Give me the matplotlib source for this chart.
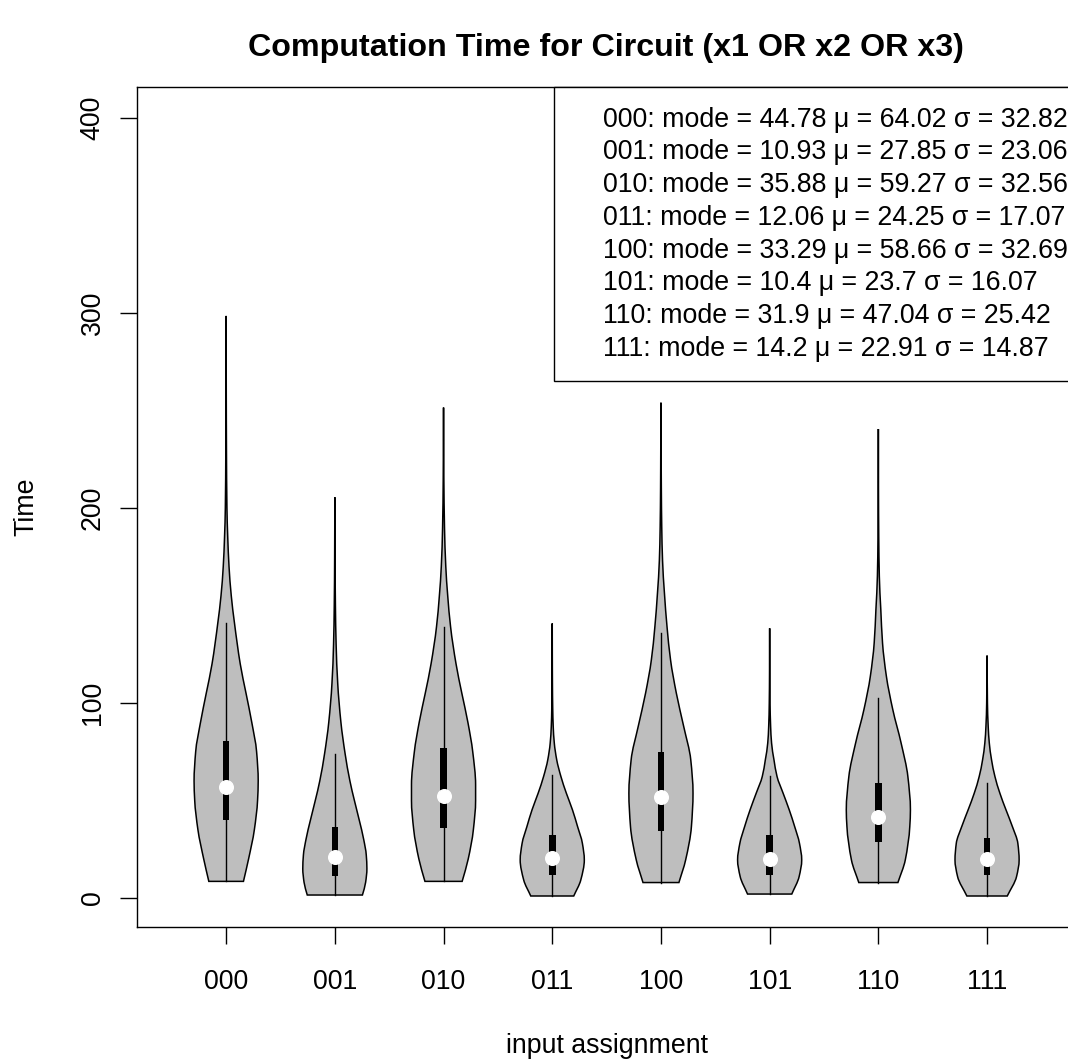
import numpy as np
import matplotlib
matplotlib.use('Agg')
import matplotlib.pyplot as plt
from matplotlib.patches import Rectangle, PathPatch
from matplotlib.path import Path

plt.rcParams['font.family'] = ['Liberation Sans', 'DejaVu Sans']

labels = ['000', '001', '010', '011', '100', '101', '110', '111']

# box plot numbers
mins = [8.5, 1.5, 8.5, 1.0, 7.9, 2.0, 7.9, 1.0]
q1 = [40, 11.2, 36, 11.8, 34.5, 11.8, 28.9, 11.8]
medians = [57, 21, 52.5, 20.3, 51.6, 20, 41.7, 20]
q3 = [80.5, 36.4, 77, 32.3, 75, 32.3, 58.8, 30.9]
upper_whisker = [141, 73.8, 139, 63.1, 136, 62.6, 102.7, 58.8]
maxs = [298.5, 205.5, 251.5, 140.8, 254, 138.3, 240.5, 124.3]

# violin outlines: time values and relative half widths
t_000 = [8.5, 20, 35, 50, 60, 75, 90, 105, 120, 141, 155, 170, 185, 200, 230, 260, 298.5]
w_000 = [0.54, 0.70, 0.88, 0.98, 1.0, 0.95, 0.80, 0.62, 0.44, 0.26, 0.16, 0.09, 0.05, 0.025, 0.01, 0.004, 0.0]
t_001 = [1.5, 8, 15, 22, 30, 40, 50, 60, 74, 90, 110, 130, 150, 175, 205.5]
w_001 = [0.86, 0.96, 1.0, 0.98, 0.90, 0.76, 0.61, 0.47, 0.32, 0.19, 0.09, 0.04, 0.018, 0.006, 0.0]
t_010 = [8.5, 20, 35, 50, 58, 75, 90, 105, 120, 139, 155, 170, 190, 215, 251.5]
w_010 = [0.58, 0.77, 0.93, 1.0, 1.0, 0.91, 0.76, 0.57, 0.39, 0.22, 0.13, 0.07, 0.03, 0.01, 0.0]
t_011 = [1.0, 9.2, 19.5, 28, 36.6, 45.2, 53.7, 62.3, 70.8, 79.4, 88, 97, 110, 125, 140.8]
w_011 = [0.67, 0.89, 1.0, 0.94, 0.79, 0.63, 0.44, 0.27, 0.14, 0.064, 0.03, 0.015, 0.006, 0.002, 0.0]
t_100 = [7.9, 19.5, 36.6, 53.7, 70.8, 87.9, 105, 122, 139, 156, 173, 190, 210, 230, 254]
w_100 = [0.56, 0.77, 0.95, 1.0, 0.93, 0.71, 0.48, 0.30, 0.19, 0.11, 0.05, 0.025, 0.012, 0.006, 0.0]
t_101 = [2.0, 11, 19.5, 28, 36.6, 45.2, 53.7, 62.3, 70.8, 79.4, 88, 100, 115, 138.3]
w_101 = [0.69, 0.92, 1.0, 0.93, 0.78, 0.61, 0.42, 0.23, 0.135, 0.06, 0.03, 0.012, 0.004, 0.0]
t_110 = [7.9, 19.5, 36.6, 45.2, 62.3, 79.4, 96.6, 113.7, 130.8, 148, 165, 185, 210, 240.5]
w_110 = [0.61, 0.84, 0.98, 1.0, 0.92, 0.71, 0.45, 0.25, 0.13, 0.076, 0.03, 0.012, 0.004, 0.0]
t_111 = [1.0, 11, 19.5, 28, 36.6, 45.2, 53.7, 62.3, 70.8, 79.4, 88, 100, 124.3]
w_111 = [0.63, 0.92, 1.0, 0.96, 0.79, 0.59, 0.40, 0.245, 0.14, 0.07, 0.035, 0.012, 0.0]

prof_t = [t_000, t_001, t_010, t_011, t_100, t_101, t_110, t_111]
prof_w = [w_000, w_001, w_010, w_011, w_100, w_101, w_110, w_111]

modes = [44.78, 10.93, 35.88, 12.06, 33.29, 10.4, 31.9, 14.2]
means = [64.02, 27.85, 59.27, 24.25, 58.66, 23.7, 47.04, 22.91]
sds = [32.82, 23.06, 32.56, 17.07, 32.69, 16.07, 25.42, 14.87]


def tangents(t, w):
    # monotone slopes so the bezier outline does not overshoot
    h = np.diff(t)
    d = np.diff(w) / h
    m = np.zeros_like(w)
    m[0], m[-1] = d[0], d[-1]
    for k in range(1, len(w) - 1):
        if d[k - 1] * d[k] > 0:
            a = 2 * h[k] + h[k - 1]
            b = h[k] + 2 * h[k - 1]
            m[k] = (a + b) / (a / d[k - 1] + b / d[k])
    return m


def violin_path(x, t, w):
    m = tangents(t, w)
    verts = [(x - w[0], t[0]), (x + w[0], t[0])]
    codes = [Path.MOVETO, Path.LINETO]
    for k in range(len(t) - 1):
        h = t[k + 1] - t[k]
        verts += [(x + w[k] + m[k] * h / 3, t[k] + h / 3),
                  (x + w[k + 1] - m[k + 1] * h / 3, t[k + 1] - h / 3),
                  (x + w[k + 1], t[k + 1])]
        codes += [Path.CURVE4] * 3
    for k in range(len(t) - 1, 0, -1):
        h = t[k] - t[k - 1]
        verts += [(x - w[k] + m[k] * h / 3, t[k] - h / 3),
                  (x - w[k - 1] - m[k - 1] * h / 3, t[k - 1] + h / 3),
                  (x - w[k - 1], t[k - 1])]
        codes += [Path.CURVE4] * 3
    verts.append((x - w[0], t[0]))
    codes.append(Path.CLOSEPOLY)
    return Path(verts, codes)


W, H = 1068, 1059
fig = plt.figure(figsize=(W / 100, H / 100), dpi=100)
# plot box: left 137px, top 87px, bottom 927px, right edge runs past the picture
ax = fig.add_axes([137 / W, (H - 927) / H, 939.2 / W, 840 / H])

half = 0.295
bw = 0.03
for i in range(len(labels)):
    x = i + 1
    t = np.array(prof_t[i], dtype=float)
    w = np.array(prof_w[i], dtype=float) * half
    ax.add_patch(PathPatch(violin_path(x, t, w), facecolor='#bebebe',
                           edgecolor='black', lw=1.1, zorder=2))
    ax.plot([x, x], [mins[i], upper_whisker[i]], color='black', lw=1.0, zorder=3)
    ax.add_patch(Rectangle((x - bw, q1[i]), 2 * bw, q3[i] - q1[i],
                           facecolor='black', edgecolor='none', zorder=4))
    ax.plot(x, medians[i], 'o', color='white', mec='white', ms=9.8, zorder=5)

ax.set_xlim(0.18, 8.82)
ax.set_ylim(-14.9, 415.9)
ax.set_xticks(range(1, 9))
ax.set_xticklabels(labels)
ax.set_yticks([0, 100, 200, 300, 400])
ax.set_yticklabels(['0', '100', '200', '300', '400'], rotation=90, va='center')
ax.tick_params(axis='both', length=12, width=1.0, labelsize=19.3, direction='out')
ax.tick_params(axis='x', pad=18)
ax.tick_params(axis='y', pad=10.6)
for s in ax.spines.values():
    s.set_linewidth(1.0)

ax.set_xlabel('input assignment', fontsize=19.3, va='top')
ax.xaxis.set_label_coords(0.5, (927 - 1033) / 840)
ax.set_ylabel('Time', fontsize=19.3)
ax.yaxis.set_label_coords((39.6 - 137) / 939.2, 0.5)

fig.text(606 / W, 1 - 48 / H, 'Computation Time for Circuit (x1 OR x2 OR x3)',
         fontsize=23.2, fontweight='bold', ha='center', va='center')

# legend box in the top right corner
lx0 = (554 - 137) / 939.2
ly0 = (927 - 381) / 840
ax.add_patch(Rectangle((lx0, ly0), 1.02 - lx0, 1 - ly0, transform=ax.transAxes,
                       facecolor='white', edgecolor='black', lw=1.0, zorder=6,
                       clip_on=False))
for k in range(len(labels)):
    txt = f"{labels[k]}: mode = {modes[k]:g} \u03bc = {means[k]:g} \u03c3 = {sds[k]:g}"
    yb = (927 - (126.7 + 32.7 * k)) / 840
    ax.text((603 - 137) / 939.2, yb, txt, transform=ax.transAxes, fontsize=19.3,
            ha='left', va='baseline', zorder=7)

fig.savefig('out.png', dpi=100)
